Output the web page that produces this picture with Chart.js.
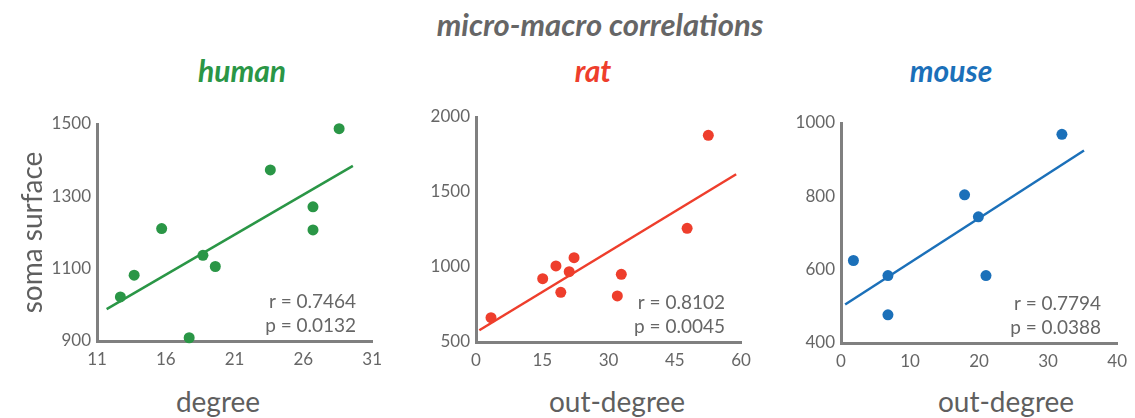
<!DOCTYPE html>
<html>
<head>
<meta charset="utf-8">
<script src="https://cdn.jsdelivr.net/npm/chart.js@4/dist/chart.umd.min.js"></script>
<style>
  body { margin: 0; background: #fff; }
  #wrap { position: relative; width: 1135px; height: 418px; overflow: hidden; font-family: Lato, sans-serif; }
  canvas { position: absolute; top: 0; }
  .lbl { position: absolute; white-space: nowrap; transform: translateX(-50%); line-height: 36px; }
  .head { font-size: 30px; font-weight: 700; font-style: italic; }
  .main { font-size: 31px; color: #666; }
  .xt { font-size: 28px; color: #5f5f5f; line-height: 34px; }
</style>
</head>
<body>
<div id="wrap">
  <div class="lbl head main" style="left:600px; top:6px;">micro-macro correlations</div>
  <div class="lbl head" style="left:242px; top:52px; color:#2a9646;">human</div>
  <div class="lbl head" style="left:593px; top:52px; color:#ee3e2c;">rat</div>
  <div class="lbl head" style="left:951px; top:52px; color:#1b70b9;">mouse</div>
  <div class="lbl xt" style="left:218px; top:384px;">degree</div>
  <div class="lbl xt" style="left:617px; top:384px;">out-degree</div>
  <div class="lbl xt" style="left:1006px; top:384px;">out-degree</div>
  <canvas id="human" width="390" height="418" style="left:0px"></canvas>
  <canvas id="rat" width="375" height="418" style="left:390px"></canvas>
  <canvas id="mouse" width="370" height="418" style="left:765px"></canvas>
</div>
<script>
// human
const humanDegree = [12.7, 13.7, 15.7, 17.7, 18.7, 19.6, 23.6, 26.7, 26.7, 28.6]
const humanSoma = [1022, 1082, 1211, 909, 1137, 1106, 1373, 1271, 1207, 1487]
const humanFitX = [11.7, 29.6]
const humanFitY = [988, 1384]
const humanXTicks = [11, 16, 21, 26, 31]
const humanYTicks = [900, 1100, 1300, 1500]
const humanStats = ['r = 0.7464', 'p = 0.0132']

// rat
const ratOutDegree = [3.4, 15.1, 18.1, 19.2, 21.1, 22.2, 32.0, 32.9, 47.8, 52.6]
const ratSoma = [662, 922, 1007, 831, 969, 1062, 807, 951, 1258, 1878]
const ratFitX = [0.75, 58.9]
const ratFitY = [578, 1618]
const ratXTicks = [0, 15, 30, 45, 60]
const ratYTicks = [500, 1000, 1500, 2000]
const ratStats = ['r = 0.8102', 'p = 0.0045']

// mouse
const mouseOutDegree = [1.8, 6.8, 6.8, 17.9, 19.9, 21.0, 32.0]
const mouseSoma = [625, 584, 477, 804, 744, 584, 969]
const mouseFitX = [0.6, 35.2]
const mouseFitY = [505, 925]
const mouseXTicks = [0, 10, 20, 30, 40]
const mouseYTicks = [400, 600, 800, 1000]
const mouseStats = ['r = 0.7794', 'p = 0.0388']

Chart.defaults.font.family = 'Lato, sans-serif'
const textGray = '#666'
const axisGray = '#808080'

const pts = (xs, ys) => xs.map((x, i) => ({ x: x, y: ys[i] }))
const plain = v => String(v)

const statsText = {
  id: 'statsText',
  afterDatasetsDraw(chart, args, opts) {
    const ctx = chart.ctx
    const a = chart.chartArea
    ctx.save()
    ctx.fillStyle = textGray
    ctx.font = '19px Lato, sans-serif'
    ctx.textAlign = 'right'
    ctx.textBaseline = 'alphabetic'
    ctx.fillText(opts.lines[0], a.right - 16, a.bottom - 33)
    ctx.fillText(opts.lines[1], a.right - 16, a.bottom - 9.5)
    ctx.restore()
  }
}

function makePanel(id, color, xs, ys, fitX, fitY, xTicks, yTicks, stats, box) {
  const yScale = {
    type: 'linear',
    min: yTicks[0],
    max: yTicks[yTicks.length - 1],
    grid: { display: false, drawTicks: false },
    border: { display: true, color: axisGray, width: 3 },
    ticks: { stepSize: yTicks[1] - yTicks[0], color: textGray, font: { size: 17 }, padding: 6, callback: plain },
    afterFit: s => { s.width = box.yW }
  }
  if (box.yTitle) {
    yScale.title = { display: true, text: box.yTitle, color: '#5f5f5f', font: { size: 28, lineHeight: 1.2 }, padding: 0 }
  }
  new Chart(document.getElementById(id).getContext('2d'), {
    type: 'scatter',
    data: {
      datasets: [{
        data: pts(xs, ys),
        backgroundColor: color,
        borderColor: color,
        pointRadius: 5.5,
        pointBorderWidth: 0,
        clip: false
      }, {
        type: 'line',
        data: pts(fitX, fitY),
        borderColor: color,
        borderWidth: 2.5,
        pointRadius: 0,
        fill: false,
        clip: false
      }]
    },
    options: {
      responsive: false,
      animation: false,
      layout: { autoPadding: false, padding: { left: box.left, right: box.right, top: box.top, bottom: 0 } },
      plugins: { legend: { display: false }, tooltip: { enabled: false }, statsText: { lines: stats } },
      scales: {
        x: {
          type: 'linear',
          min: xTicks[0],
          max: xTicks[xTicks.length - 1],
          grid: { display: false, drawTicks: false },
          border: { display: true, color: axisGray, width: 3 },
          ticks: { stepSize: xTicks[1] - xTicks[0], color: textGray, font: { size: 17 }, padding: 8, maxRotation: 0, callback: plain },
          afterFit: s => { s.height = box.xH }
        },
        y: yScale
      }
    },
    plugins: [statsText]
  })
}

makePanel('human', '#2a9646', humanDegree, humanSoma, humanFitX, humanFitY, humanXTicks, humanYTicks, humanStats,
  { left: 16, right: 12, top: 124, yW: 81, xH: 77, yTitle: 'soma surface' })
makePanel('rat', '#ee3e2c', ratOutDegree, ratSoma, ratFitX, ratFitY, ratXTicks, ratYTicks, ratStats,
  { left: 0, right: 24, top: 117, yW: 86, xH: 76 })
makePanel('mouse', '#1b70b9', mouseOutDegree, mouseSoma, mouseFitX, mouseFitY, mouseXTicks, mouseYTicks, mouseStats,
  { left: 0, right: 13, top: 123, yW: 76, xH: 75 })
</script>
</body>
</html>
